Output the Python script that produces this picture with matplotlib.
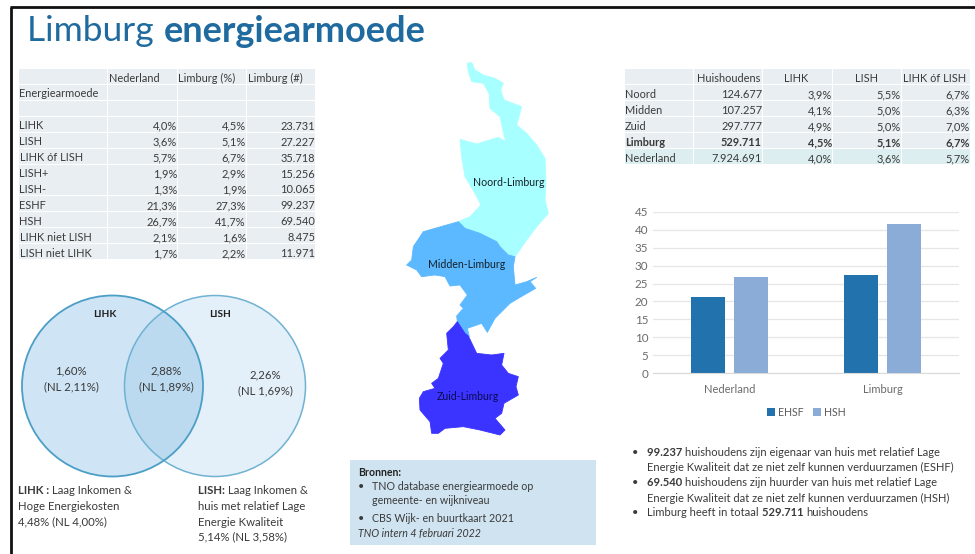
import matplotlib
matplotlib.use("Agg")
import matplotlib.pyplot as plt
from matplotlib.patches import Rectangle, Polygon, Circle

plt.rcParams['font.family'] = ['Lato', 'DejaVu Sans']

# ---------- data ----------
left_header = ["", "Nederland", "Limburg (%)", "Limburg (#)"]
left_rows = [
    ["Energiearmoede", "", "", ""],
    ["", "", "", ""],
    ["LIHK", "4,0%", "4,5%", "23.731"],
    ["LISH", "3,6%", "5,1%", "27.227"],
    ["LIHK óf LISH", "5,7%", "6,7%", "35.718"],
    ["LISH+", "1,9%", "2,9%", "15.256"],
    ["LISH-", "1,3%", "1,9%", "10.065"],
    ["ESHF", "21,3%", "27,3%", "99.237"],
    ["HSH", "26,7%", "41,7%", "69.540"],
    ["LIHK niet LISH", "2,1%", "1,6%", "8.475"],
    ["LISH niet LIHK", "1,7%", "2,2%", "11.971"],
]
right_header = ["", "Huishoudens", "LIHK", "LISH", "LIHK óf LISH"]
right_rows = [
    ["Noord", "124.677", "3,9%", "5,5%", "6,7%"],
    ["Midden", "107.257", "4,1%", "5,0%", "6,3%"],
    ["Zuid", "297.777", "4,9%", "5,0%", "7,0%"],
    ["Limburg", "529.711", "4,5%", "5,1%", "6,7%"],
    ["Nederland", "7.924.691", "4,0%", "3,6%", "5,7%"],
]
bar_categories = ["Nederland", "Limburg"]
ehsf_values = [21.3, 27.3]
hsh_values = [26.7, 41.7]
y_ticks = [0, 5, 10, 15, 20, 25, 30, 35, 40, 45]

noord_outline = [(262,40),(275,38),(285,60),(310,75),(345,85),(370,100),(362,120),(372,150),(425,170),(410,225),(440,250),(470,285),(495,325),(498,400),(495,450),(505,490),(470,530),(440,570),(405,620),(385,615),(360,590),(350,575),(300,550),(255,535),(235,515),(270,500),(303,465),(285,430),(255,380),(245,320),(240,268),(290,282),(355,262),(377,275),(365,225),(360,200),(330,175),(327,130),(310,100),(275,95),(265,65)]
midden_outline = [(235,515),(255,535),(300,550),(350,575),(360,590),(385,615),(405,620),(400,650),(405,705),(440,695),(470,682),(450,695),(467,715),(415,745),(390,760),(345,805),(322,847),(305,820),(262,835),(268,860),(255,850),(232,815),(230,798),(250,775),(240,765),(262,735),(240,705),(210,708),(195,680),(165,675),(125,680),(110,660),(80,645),(95,630),(100,590),(130,545)]
zuid_outline = [(232,815),(255,850),(265,858),(290,910),(335,915),(372,910),(365,945),(385,970),(415,980),(408,1010),(415,1035),(372,1060),(365,1090),(345,1105),(375,1140),(360,1155),(300,1140),(250,1130),(195,1135),(175,1150),(155,1150),(150,1115),(120,1080),(118,1045),(130,1025),(165,1015),(155,1000),(175,985),(190,940),(180,925),(205,900),(200,850),(220,830)]

# ---------- canvas ----------
W, H = 975, 554
fig = plt.figure(figsize=(W/100, H/100), dpi=100, facecolor="white")
ax = fig.add_axes([0, 0, 1, 1])
ax.set_xlim(0, W); ax.set_ylim(H, 0); ax.axis("off")
renderer = fig.canvas.get_renderer()

INK = "#3a3a3a"
def T(x, y, s, size=8, color=INK, ha="left", weight="normal", **kw):
    return ax.text(x, y, s, fontsize=size, color=color, ha=ha, va="center", fontweight=weight, **kw)

def runs(x, y, parts, size=8.2, color=INK):
    for s, w in parts:
        t = T(x, y, s, size=size, color=color, weight=w)
        x = t.get_window_extent(renderer).x1

# frame
ax.plot([10.5, 10.5], [H, 6.5], color="#111111", lw=2.0, solid_capstyle="butt")
ax.plot([10, W], [6.5, 6.5], color="#111111", lw=2.0, solid_capstyle="butt")

# title
t = T(27, 31, "Limburg ", size=25.5, color="#1f6a9e")
x1 = t.get_window_extent(renderer).x1
T(x1 + 1, 31, "energiearmoede", size=26, color="#1f6a9e", weight="bold")

# ---------- left table ----------
lcols = [(19, 107), (108, 177), (178, 246), (247, 315)]
TS = 7.9
for r, row in enumerate([left_header] + left_rows):
    y0 = 69 + r * 15.92
    for c, (a, b) in enumerate(lcols):
        ax.add_patch(Rectangle((a, y0), b - a, 15, fc="#e8eef2", ec="none"))
        s = row[c]
        if not s:
            continue
        if r == 0:
            T(a + 0.5, y0 + 9, s, size=TS)
        elif c == 0:
            T(a + 0.5, y0 + 9, s, size=TS)
        else:
            T(b, y0 + 9.5, s, size=TS, ha="right")

# ---------- right table ----------
rcols = [(625, 693), (694, 762), (763, 832), (833, 901), (902, 970)]
for r, row in enumerate([right_header] + right_rows):
    y0 = 69 + r * 16
    fc = "#ddeef1" if r == 5 else "#e8eef2"
    w = "bold" if r == 4 else "normal"
    for c, (a, b) in enumerate(rcols):
        ax.add_patch(Rectangle((a, y0), b - a, 15, fc=fc, ec="none"))
        s = row[c]
        if not s:
            continue
        if r == 0:
            T((a + b) / 2 + (1 if c == 1 else -1), y0 + 9, s, size=TS, ha="center")
        elif c == 0:
            T(a, y0 + 9, s, size=TS, weight=w)
        else:
            T(b, y0 + 9.5, s, size=TS, ha="right", weight=w)

# ---------- venn ----------
ax.add_patch(Circle((215, 386), 90.5, fc="#e3eff9", ec="none"))
left_c = Circle((112.5, 386), 90.5, fc="#cfe4f4", ec="none")
ax.add_patch(left_c)
overlap = Circle((215, 386), 90.5, fc="#bbdaf0", ec="none")
ax.add_patch(overlap)
overlap.set_clip_path(Circle((112.5, 386), 90.5, transform=ax.transData))
ax.add_patch(Circle((215, 386), 90.5, fc="none", ec="#6fb2d2", lw=1.1))
ax.add_patch(Circle((112.5, 386), 90.5, fc="none", ec="#4b9fc6", lw=1.3))

T(105, 314.5, "LIHK", size=7.3, ha="center", weight="bold", color="#222222")
T(220, 314.5, "LISH", size=7.3, ha="center", weight="bold", color="#222222")
VS = 8.2
T(71, 371, "1,60%", size=VS, ha="center"); T(71, 387, "(NL 2,11%)", size=VS, ha="center")
T(166, 371, "2,88%", size=VS, ha="center"); T(166, 387, "(NL 1,89%)", size=VS, ha="center")
T(265, 375, "2,26%", size=VS, ha="center"); T(265, 391, "(NL 1,69%)", size=VS, ha="center")

runs(18, 491, [("LIHK : ", "bold"), ("Laag Inkomen &", "normal")])
T(18, 507, "Hoge Energiekosten", size=8.2)
T(18, 522, "4,48% (NL 4,00%)", size=8.2)
runs(198, 491, [("LISH: ", "bold"), ("Laag Inkomen &", "normal")])
T(198, 507, "huis met relatief Lage", size=8.2)
T(198, 522, "Energie Kwaliteit", size=8.2)
T(198, 537, "5,14% (NL 3,58%)", size=8.2)

# ---------- map ----------
def to_px(points):
    return [(380 + px / 3, 50 + py / 3) for px, py in points]
ax.add_patch(Polygon(to_px(noord_outline), closed=True, fc="#a8ffff", ec="#a8ffff", lw=0.6, joinstyle="round"))
ax.add_patch(Polygon(to_px(midden_outline), closed=True, fc="#5cb9ff", ec="#5cb9ff", lw=0.6, joinstyle="round"))
ax.add_patch(Polygon(to_px(zuid_outline), closed=True, fc="#3b33ff", ec="#3b33ff", lw=0.6, joinstyle="round"))
T(509, 183, "Noord-Limburg", size=7.6, ha="center", color="#14202a")
T(467, 264, "Midden-Limburg", size=7.6, ha="center", color="#14202a")
T(468, 396, "Zuid-Limburg", size=7.6, ha="center", color="#0c0c50")

# ---------- sources box ----------
ax.add_patch(Rectangle((350, 460), 246, 85, fc="#cfe3f1", ec="none"))
T(358, 472, "Bronnen:", size=7.6, weight="bold", color="#222222")
BS = 7.7
T(358, 487, "•", size=BS); T(372, 487, "TNO database energiearmoede op", size=BS)
T(372, 500, "gemeente- en wijkniveau", size=BS)
T(358, 519, "•", size=BS); T(372, 519, "CBS Wijk- en buurtkaart 2021", size=BS)
T(358, 534, "TNO intern 4 februari 2022", size=BS, style="italic")

# ---------- bullets ----------
BL = 8.0
T(632, 452, "•", size=BL)
runs(647, 452, [("99.237 ", "bold"), ("huishoudens zijn eigenaar van huis met relatief Lage", "normal")], size=BL)
T(647, 467, "Energie Kwaliteit dat ze niet zelf kunnen verduurzamen (ESHF)", size=BL)
T(632, 483, "•", size=BL)
runs(647, 483, [("69.540 ", "bold"), ("huishoudens zijn huurder van huis met relatief Lage", "normal")], size=BL)
T(647, 498, "Energie Kwaliteit dat ze niet zelf kunnen verduurzamen (HSH)", size=BL)
T(632, 513, "•", size=BL)
runs(647, 513, [("Limburg heeft in totaal ", "normal"), ("529.711 ", "bold"), ("huishoudens", "normal")], size=BL)

# ---------- bar chart ----------
AX, AR, AT, AB = 653, 959, 211.7, 373.3
bax = fig.add_axes([AX / W, 1 - AB / H, (AR - AX) / W, (AB - AT) / H], facecolor="none")
bw = 0.222
off = 0.141
pos = list(range(len(bar_categories)))
bax.bar([p - off for p in pos], ehsf_values, bw, color="#2272ae", label="EHSF")
bax.bar([p + off for p in pos], hsh_values, bw, color="#8aacd6", label="HSH")
bax.set_xlim(-0.5, 1.5); bax.set_ylim(0, 45)
bax.set_yticks(y_ticks)
bax.set_xticks(pos, bar_categories)
bax.grid(axis="y", color="#e6e6e6", lw=0.9)
bax.set_axisbelow(True)
for s in ["top", "right", "left"]:
    bax.spines[s].set_visible(False)
bax.spines["bottom"].set_color("#d9d9d9")
bax.tick_params(axis="both", length=0, labelsize=8, labelcolor="#6b6b6b")
bax.tick_params(axis="y", labelsize=8.4)
bax.tick_params(axis="x", pad=8)
bax.legend(loc="upper center", bbox_to_anchor=(0.5, -0.175), ncol=2, frameon=False, fontsize=7.6,
           labelcolor="#5a5a5a", handlelength=0.75, handleheight=0.75, handletextpad=0.3, columnspacing=0.9,
           borderpad=0)

fig.savefig("out.png", dpi=100, facecolor="white")
